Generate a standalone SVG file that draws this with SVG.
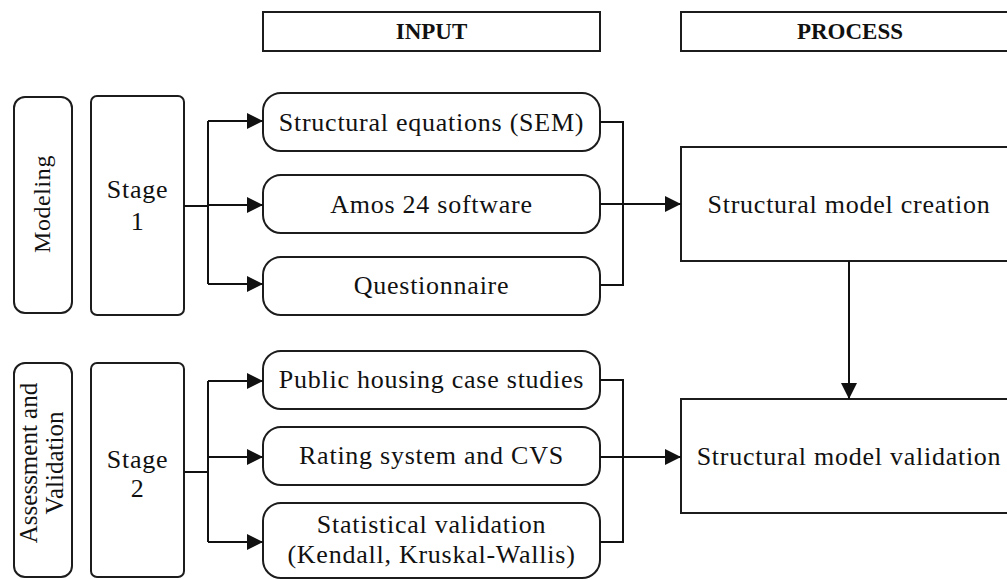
<svg xmlns="http://www.w3.org/2000/svg" width="1007" height="579" viewBox="0 0 1007 579">
  <style>
    .box { fill: #ffffff; stroke: #1c1c1c; stroke-width: 2; }
    .txt { font-family: 'Liberation Serif', 'Tinos', 'Times New Roman', 'DejaVu Serif', serif; font-size: 26px; letter-spacing: 0.75px; fill: #111111; text-anchor: middle; }
    .side { font-family: 'Liberation Serif', 'Tinos', 'Times New Roman', 'DejaVu Serif', serif; font-size: 24px; letter-spacing: 0.6px; fill: #111111; text-anchor: middle; }
    .head { font-family: 'Liberation Serif', 'Tinos', 'Times New Roman', 'DejaVu Serif', serif; font-size: 23px; font-weight: bold; fill: #111111; text-anchor: middle; }
    .wire { fill: none; stroke: #111111; stroke-width: 2; }
    .arrow { fill: none; stroke: #111111; stroke-width: 2; marker-end: url(#tip); }
  </style>
  <defs>
    <marker id="tip" viewBox="0 0 16 16" refX="16" refY="8" markerWidth="16" markerHeight="16" markerUnits="userSpaceOnUse" orient="auto">
      <path d="M0,0 L16,8 L0,16 Z" fill="#111111"/>
    </marker>
  </defs>
  <rect width="1007" height="579" fill="#ffffff"/>

  <!-- column headers -->
  <g id="header-input">
    <rect class="box" x="263" y="12" width="337" height="39"/>
    <text class="head" x="431.5" y="39">INPUT</text>
  </g>
  <g id="header-process">
    <rect class="box" x="681" y="12" width="340" height="39"/>
    <text class="head" x="850" y="39">PROCESS</text>
  </g>

  <!-- phase labels -->
  <g id="phase-modeling">
    <rect class="box" x="14" y="97" width="58" height="216" rx="11"/>
    <text class="side" transform="translate(50,204) rotate(-90)">Modeling</text>
  </g>
  <g id="phase-assessment">
    <rect class="box" x="14" y="363" width="58" height="214" rx="11"/>
    <text class="txt" style="font-size:25px;letter-spacing:0" transform="translate(37,463) rotate(-90)">Assessment and</text>
    <text class="txt" style="font-size:25px;letter-spacing:0" transform="translate(63,463) rotate(-90)">Validation</text>
  </g>

  <!-- stages -->
  <g id="stage-1">
    <rect class="box" x="91" y="96" width="93" height="219" rx="6"/>
    <text class="txt" x="137.5" y="198">Stage</text>
    <text class="txt" x="137.5" y="230">1</text>
  </g>
  <g id="stage-2">
    <rect class="box" x="91" y="363" width="93" height="214" rx="6"/>
    <text class="txt" x="137.5" y="468">Stage</text>
    <text class="txt" x="137.5" y="497">2</text>
  </g>

  <!-- inputs, stage 1 -->
  <g id="input-sem">
    <rect class="box" x="263" y="93" width="337" height="58" rx="18"/>
    <text class="txt" x="431.5" y="130.5">Structural equations (SEM)</text>
  </g>
  <g id="input-amos">
    <rect class="box" x="263" y="175" width="337" height="58" rx="18"/>
    <text class="txt" x="431.5" y="213">Amos 24 software</text>
  </g>
  <g id="input-questionnaire">
    <rect class="box" x="263" y="257" width="337" height="58" rx="18"/>
    <text class="txt" x="431.5" y="294">Questionnaire</text>
  </g>

  <!-- inputs, stage 2 -->
  <g id="input-case-studies">
    <rect class="box" x="263" y="351" width="337" height="58" rx="18"/>
    <text class="txt" x="431.5" y="388">Public housing case studies</text>
  </g>
  <g id="input-rating">
    <rect class="box" x="263" y="427" width="337" height="58" rx="18"/>
    <text class="txt" x="431.5" y="464">Rating system and CVS</text>
  </g>
  <g id="input-statistics">
    <rect class="box" x="263" y="503" width="337" height="75" rx="18"/>
    <text class="txt" x="431.5" y="533">Statistical validation</text>
    <text class="txt" x="431.5" y="563">(Kendall, Kruskal-Wallis)</text>
  </g>

  <!-- process steps -->
  <g id="process-creation">
    <rect class="box" x="681" y="147" width="340" height="114"/>
    <text class="txt" x="849" y="213">Structural model creation</text>
  </g>
  <g id="process-validation">
    <rect class="box" x="681" y="399" width="340" height="114"/>
    <text class="txt" x="849" y="465">Structural model validation</text>
  </g>

  <!-- connectors -->
  <g id="connectors">
    <path class="wire" d="M184,206 H208 M208,121 V284"/>
    <path class="arrow" d="M208,121 H263"/>
    <path class="arrow" d="M208,205 H263"/>
    <path class="arrow" d="M208,284 H263"/>

    <path class="wire" d="M600,122 H623 V285 H600"/>
    <path class="arrow" d="M600,204 H681"/>

    <path class="arrow" d="M849,261 V399"/>

    <path class="wire" d="M184,472 H208 M208,381 V542"/>
    <path class="arrow" d="M208,381 H263"/>
    <path class="arrow" d="M208,457 H263"/>
    <path class="arrow" d="M208,542 H263"/>

    <path class="wire" d="M600,380 H623 V542 H600"/>
    <path class="arrow" d="M600,457 H681"/>
  </g>
</svg>
